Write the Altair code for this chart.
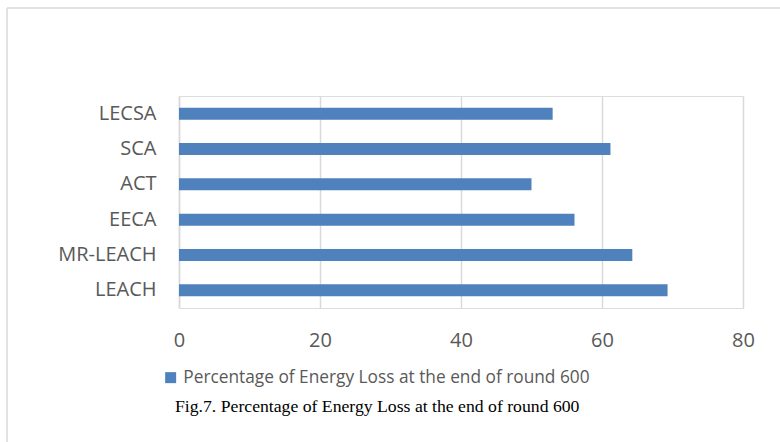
import altair as alt
import pandas as pd

# Energy loss (%) per clustering protocol after 600 rounds
methods = ["LECSA", "SCA", "ACT", "EECA", "MR-LEACH", "LEACH"]
energy_loss = [53.0, 61.2, 50.0, 56.1, 64.3, 69.3]
series_name = "Percentage of Energy Loss at the end of round 600"
x_ticks = [0, 20, 40, 60, 80]
caption = "Fig.7. Percentage of Energy Loss at the end of round 600"

df = pd.DataFrame({"method": methods, "loss": energy_loss, "series": series_name})

W, H = 564, 212
PAD = {"left": 179, "top": 96, "right": 37, "bottom": 134}
GRID = "#d9d9d9"
TEXT = "#595959"
BLUE = "#4f81bd"

bars = alt.Chart(df).mark_bar().encode(
    x=alt.X(
        "loss:Q",
        scale=alt.Scale(domain=[0, 80], nice=False),
        axis=alt.Axis(
            values=x_ticks, title=None, grid=True, gridColor=GRID, gridWidth=1.5,
            domain=False, ticks=False, labelFont="Open Sans", labelFontSize=20,
            labelColor=TEXT, labelPadding=22, labelFlush=False,
        ),
    ),
    y=alt.Y(
        "method:N", sort=methods,
        scale=alt.Scale(paddingInner=0.66, paddingOuter=0.33),
        axis=alt.Axis(
            title=None, domainColor=GRID, domainWidth=1.5, ticks=False, grid=False,
            labelPadding=23, labelFont="Open Sans", labelFontSize=20, labelColor=TEXT,
        ),
    ),
    color=alt.Color(
        "series:N",
        scale=alt.Scale(range=[BLUE]),
        legend=alt.Legend(
            title=None, orient="none", legendX=-17, legendY=273, padding=0,
            symbolType="square", symbolSize=121, symbolStrokeWidth=0,
            labelFont="Open Sans", labelFontSize=17.3, labelColor=TEXT, labelOffset=4,
            labelLimit=0,
        ),
    ),
)

one = pd.DataFrame({"caption": [caption]})

# outer chart-area frame: top and left edges, running to the canvas edges
frame_top = alt.Chart(one).mark_rule(color=GRID, strokeWidth=1.5).encode(
    x=alt.value(-172), x2=alt.value(W + PAD["right"]), y=alt.value(-88),
)
frame_left = alt.Chart(one).mark_rule(color=GRID, strokeWidth=1.5).encode(
    x=alt.value(-172), y=alt.value(-88), y2=alt.value(H + PAD["bottom"]),
)

# figure caption under the legend
fig_caption = alt.Chart(one).mark_text(
    font="Liberation Serif", fontSize=17.7, color="#000000",
    align="left", baseline="middle",
).encode(text="caption:N", x=alt.value(-4), y=alt.value(311))

chart = alt.layer(frame_top, frame_left, bars, fig_caption).properties(
    width=W, height=H,
    autosize=alt.AutoSizeParams(type="none"),
    padding=PAD,
).configure_view(stroke=None).configure(background="white")

chart.save("out.html", embed_options={"renderer": "svg", "actions": False})
